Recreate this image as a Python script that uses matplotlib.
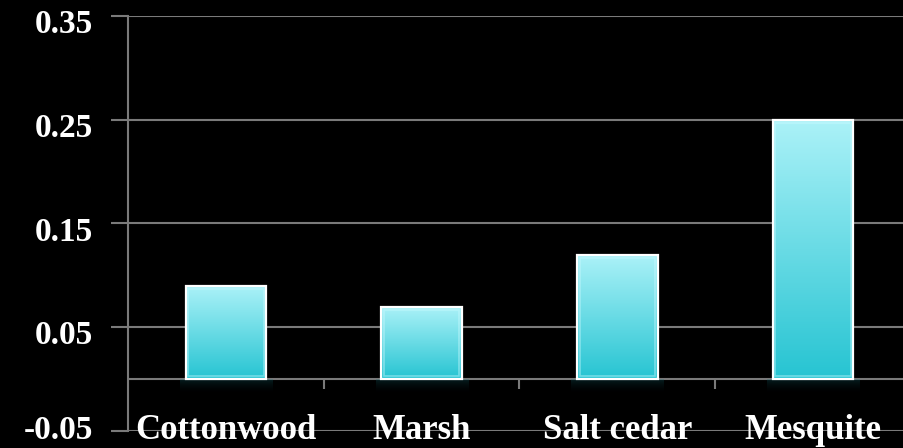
import numpy as np
import matplotlib
matplotlib.use("Agg")
import matplotlib.pyplot as plt
import matplotlib.transforms as mtransforms
from matplotlib.patches import Rectangle

categories = ["Cottonwood", "Marsh", "Salt cedar", "Mesquite"]
values = [0.09, 0.07, 0.12, 0.25]
y_ticks = [-0.05, 0.05, 0.15, 0.25, 0.35]
y_tick_labels = ["-0.05", "0.05", "0.15", "0.25", "0.35"]

BG = "black"
GRID = "#7a7a7a"
TOP_RGB = np.array([172, 242, 248]) / 255.0
BOT_RGB = np.array([38, 196, 210]) / 255.0
FONT = dict(family="Liberation Serif", weight="bold", color="white")

fig = plt.figure(figsize=(9.04, 4.48), dpi=100, facecolor=BG)
ax = fig.add_axes([128 / 904, 17 / 448, 783 / 904, 415 / 448])
ax.set_facecolor(BG)
ax.set_xlim(-0.5, len(categories) - 0.5)
ax.set_ylim(-0.05, 0.35)

# value axis: gridlines, outward ticks, labels sitting a little low
ax.set_yticks(y_ticks)
ax.set_yticklabels(y_tick_labels, fontsize=24, **FONT)
ax.tick_params(axis="y", length=12, width=1.5, color=GRID, pad=13)
for k, lbl in enumerate(ax.get_yticklabels()):
    dy = -4 if k == 0 else 5
    shift = mtransforms.ScaledTranslation(0, -dy / 100, fig.dpi_scale_trans)
    lbl.set_transform(lbl.get_transform() + shift)
ax.yaxis.grid(True, color=GRID, lw=1.5)
ax.set_axisbelow(True)
ax.set_xticks([])
for side in ("top", "right", "bottom"):
    ax.spines[side].set_visible(False)
ax.spines["left"].set_color(GRID)
ax.spines["left"].set_linewidth(1.5)

# category axis at zero with boundary ticks
ax.axhline(0, color=GRID, lw=1.5, zorder=1)
bounds = np.arange(0.5, len(categories) - 0.5, 1.0)
ax.vlines(bounds, -0.0095, 0, color=GRID, lw=1.5, zorder=1)

width = 0.41
grad = np.linspace(0, 1, 256)[:, None]
for i, (name, v) in enumerate(zip(categories, values)):
    x0, x1 = i - width / 2, i + width / 2
    # vertical gradient fill, light at the top
    img = (BOT_RGB[None, None, :] * (1 - grad[:, :, None])
           + TOP_RGB[None, None, :] * grad[:, :, None])
    ax.imshow(img, extent=[x0, x1, 0, v], origin="lower",
              aspect="auto", zorder=3, interpolation="bilinear")
    # soft glow under the bar
    glow = np.zeros((64, 1, 4))
    glow[:, 0, :3] = np.array([20, 120, 130]) / 255.0
    glow[:, 0, 3] = np.linspace(0, 0.5, 64) ** 2
    ax.imshow(glow, extent=[x0 - 0.03, x1 + 0.03, -0.015, 0], origin="lower",
              aspect="auto", zorder=2, interpolation="bilinear")
    # bright rim
    ax.add_patch(Rectangle((x0, 0), width, v, fill=False,
                           edgecolor="white", lw=1.6, zorder=4))
    ax.add_patch(Rectangle((x0 + 0.012, 0.003), width - 0.024, v - 0.006,
                           fill=False, edgecolor=(0.8, 0.98, 1.0, 0.45),
                           lw=1.2, zorder=4))
    ax.text(i, -0.0495, name, ha="center", va="center", fontsize=25,
            zorder=5, clip_on=False, **FONT)

fig.savefig("out.png", dpi=100, facecolor=BG)
